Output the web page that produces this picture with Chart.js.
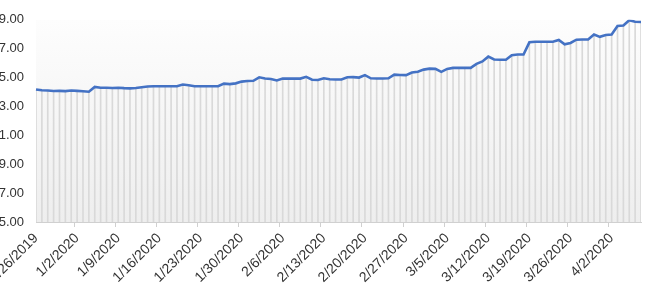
<!DOCTYPE html>
<html>
<head>
<meta charset="utf-8">
<script src="https://cdn.jsdelivr.net/npm/chart.js@4"></script>
<style>
  body { margin: 0; background: #fff; }
  #wrap { position: relative; width: 648px; height: 295px; overflow: hidden; }
  #chart { position: absolute; left: -24px; top: 0; }
</style>
</head>
<body>
<div id="wrap"><canvas id="chart" width="672" height="295"></canvas></div>
<script>
// daily closing values, 12/26/2019 onwards
const startDay = [2019, 11, 26];
const prices = [
  14.18, 14.12, 14.10, 14.07, 14.08, 14.06, 14.10, 14.08, 14.05, 14.02,
  14.35, 14.30, 14.30, 14.28, 14.30, 14.27, 14.25, 14.28, 14.33, 14.38,
  14.40, 14.40, 14.40, 14.40, 14.40, 14.52, 14.47, 14.40, 14.40, 14.40,
  14.40, 14.40, 14.58, 14.55, 14.60, 14.72, 14.76, 14.78, 15.02, 14.93,
  14.90, 14.80, 14.93, 14.93, 14.93, 14.93, 15.05, 14.85, 14.83, 14.95,
  14.88, 14.87, 14.87, 15.02, 15.03, 15.00, 15.17, 14.95, 14.94, 14.94,
  14.95, 15.20, 15.18, 15.17, 15.35, 15.40, 15.55, 15.62, 15.60, 15.40,
  15.60, 15.67, 15.67, 15.67, 15.67, 15.95, 16.12, 16.45, 16.25, 16.23,
  16.23, 16.55, 16.60, 16.60, 17.44, 17.48, 17.48, 17.48, 17.48, 17.60,
  17.30, 17.40, 17.62, 17.64, 17.64, 17.98, 17.82, 17.95, 17.98, 18.57,
  18.60, 18.97, 18.86, 18.85
];
const yTicks = [5, 7, 9, 11, 13, 15, 17, 19];

const dates = prices.map((_, i) => {
  const d = new Date(startDay[0], startDay[1], startDay[2] + i);
  return `${d.getMonth() + 1}/${d.getDate()}/${d.getFullYear()}`;
});

const plotBg = {
  id: 'plotBg',
  beforeDraw(chart) {
    const { ctx, chartArea: a } = chart;
    const g = ctx.createLinearGradient(0, a.top, 0, a.bottom);
    g.addColorStop(0, '#fdfdfd');
    g.addColorStop(1, '#eeeeee');
    ctx.save();
    ctx.fillStyle = g;
    ctx.fillRect(a.left, a.top, a.right - a.left, a.bottom - a.top);
    ctx.restore();
  }
};

const family = "'Liberation Sans', Arial, sans-serif";

new Chart(document.getElementById('chart'), {
  type: 'line',
  data: {
    labels: dates,
    datasets: [
      {
        type: 'line',
        data: prices,
        borderColor: '#4472C4',
        borderWidth: 2.6,
        pointRadius: 0,
        tension: 0,
        order: 0
      },
      {
        type: 'bar',
        data: prices,
        backgroundColor: '#d9d9d9',
        barThickness: 1,
        order: 1
      }
    ]
  },
  options: {
    responsive: false,
    animation: false,
    layout: { padding: { top: 16, right: 7, bottom: 0, left: 0 } },
    plugins: { legend: { display: false }, tooltip: { enabled: false } },
    scales: {
      x: {
        offset: false,
        afterFit: s => { s.height = 73; s.paddingRight = 0; },
        grid: {
          drawOnChartArea: false,
          tickLength: 5,
          color: c => (c.index % 7 === 0 ? '#d0d0d0' : 'rgba(0,0,0,0)')
        },
        border: { color: '#d0d0d0' },
        ticks: {
          autoSkip: false,
          minRotation: 45,
          maxRotation: 45,
          padding: 3,
          color: '#333',
          font: { family, size: 14 },
          callback: (v, i) => (i % 7 === 0 ? dates[i] : '')
        }
      },
      y: {
        min: yTicks[0],
        max: yTicks[yTicks.length - 1],
        afterFit: s => { s.width = 60; },
        afterBuildTicks: s => { s.ticks = yTicks.map(v => ({ value: v })); },
        grid: { display: false, drawTicks: false },
        border: { display: false },
        ticks: {
          padding: 12,
          color: '#333',
          font: { family, size: 13 },
          callback: v => v.toFixed(2)
        }
      }
    }
  },
  plugins: [plotBg]
});
</script>
</body>
</html>
